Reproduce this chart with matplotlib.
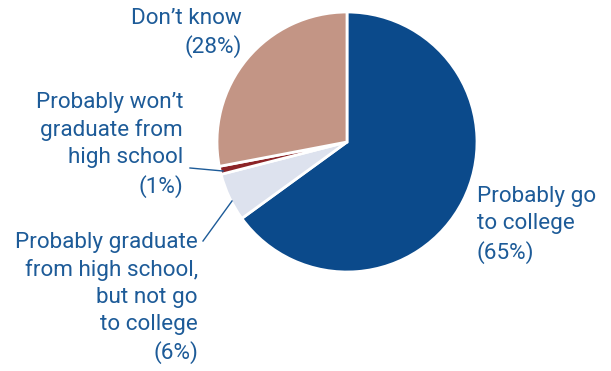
import matplotlib
matplotlib.use("Agg")
import matplotlib.pyplot as plt

# Survey shares, drawn clockwise from 12 o'clock
categories = [
    "Probably go\nto college",
    "Probably graduate\nfrom high school,\nbut not go\nto college",
    "Probably won\u2019t\ngraduate from\nhigh school",
    "Don\u2019t know",
]
values = [65, 6, 1, 28]
colors = ["#0b4a8b", "#dde2ee", "#8c2427", "#c39585"]
text_color = "#1d5b98"

W, H = 611, 371
fig = plt.figure(figsize=(W / 100, H / 100), dpi=100)
ax = fig.add_axes([0, 0, 1, 1])

cx, cy, r = 347, 142, 130
# y axis is inverted, so counterclock=True renders clockwise on screen
ax.pie(values, colors=colors, startangle=-90, counterclock=True,
       center=(cx, cy), radius=r, frame=True,
       wedgeprops=dict(edgecolor="white", linewidth=2))
ax.set_xlim(0, W)
ax.set_ylim(H, 0)
ax.set_aspect("equal")
ax.axis("off")

font = dict(family=["Roboto", "DejaVu Sans"], fontsize=16.2,
            color=text_color, linespacing=1.36)

labels = [f"{c}\n({v}%)" for c, v in zip(categories, values)]
ax.text(477, 225, labels[0], ha="left", va="center", **font)
ax.text(198, 298, labels[1], ha="right", va="center", **font)
ax.text(183, 145, labels[2], ha="right", va="center", **font)
ax.text(242, 33, labels[3], ha="right", va="center", **font)

# leader lines for the two thin slices
ax.plot([190, 223], [168, 171], color=text_color, lw=1)
ax.plot([203, 232], [241, 201], color=text_color, lw=1)

fig.savefig("out.png", dpi=100)
